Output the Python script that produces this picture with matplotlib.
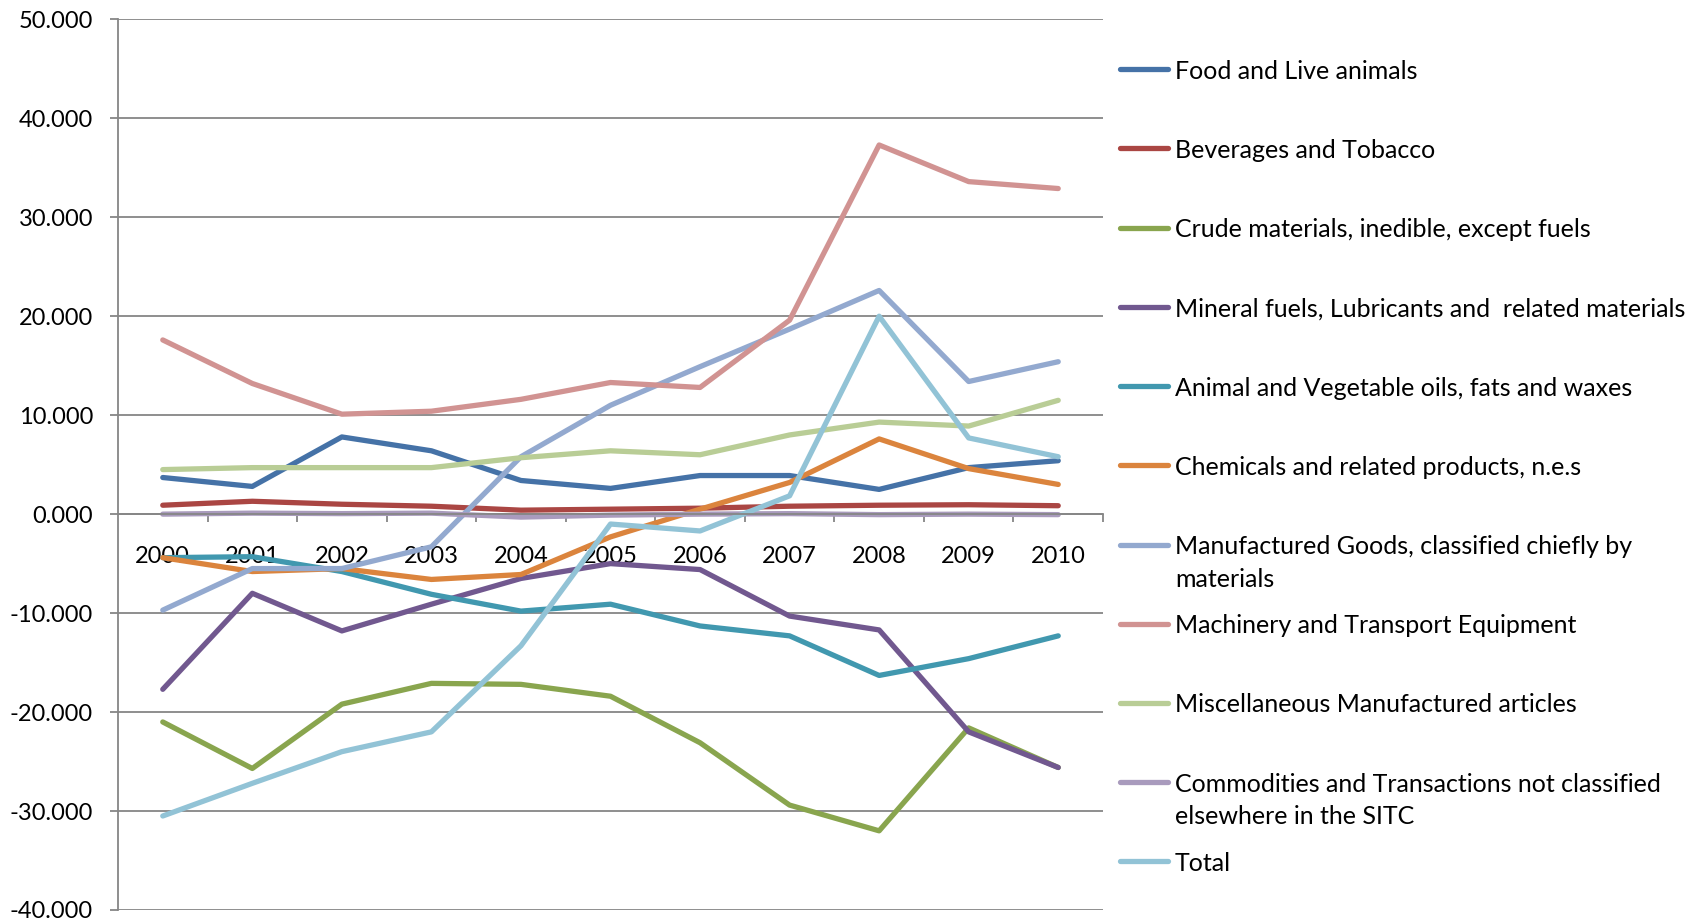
import matplotlib
matplotlib.use('Agg')
from matplotlib import pyplot as plt
from matplotlib.lines import Line2D
from matplotlib.ticker import FormatStrFormatter
import numpy as np

plt.rcParams['font.family'] = ['Lato', 'DejaVu Sans']
plt.rcParams['axes.unicode_minus'] = False

years = ['2000', '2001', '2002', '2003', '2004', '2005', '2006', '2007', '2008', '2009', '2010']

food = [3.7, 2.8, 7.8, 6.4, 3.4, 2.6, 3.9, 3.9, 2.5, 4.7, 5.4]
beverages = [0.9, 1.3, 1.0, 0.8, 0.4, 0.5, 0.6, 0.8, 0.9, 0.95, 0.85]
crude = [-21.0, -25.7, -19.2, -17.1, -17.2, -18.4, -23.1, -29.4, -32.0, -21.6, -25.6]
mineral = [-17.7, -8.0, -11.8, -9.1, -6.5, -5.0, -5.6, -10.3, -11.7, -22.0, -25.6]
oils = [-4.4, -4.3, -5.8, -8.1, -9.8, -9.1, -11.3, -12.3, -16.3, -14.6, -12.3]
chemicals = [-4.4, -5.8, -5.5, -6.6, -6.1, -2.3, 0.5, 3.2, 7.6, 4.6, 3.0]
manufactured = [-9.7, -5.5, -5.5, -3.3, 5.8, 11.0, 14.9, 18.7, 22.6, 13.4, 15.4]
machinery = [17.6, 13.2, 10.1, 10.4, 11.6, 13.3, 12.8, 19.6, 37.3, 33.6, 32.9]
misc = [4.5, 4.7, 4.7, 4.7, 5.7, 6.4, 6.0, 8.0, 9.3, 8.9, 11.5]
commodities = [0.0, 0.1, 0.05, 0.1, -0.3, -0.1, 0.0, 0.05, -0.05, 0.0, -0.05]
total = [-30.5, -27.2, -24.0, -22.0, -13.3, -1.0, -1.7, 1.85, 20.0, 7.7, 5.8]

series = [food, beverages, crude, mineral, oils, chemicals,
          manufactured, machinery, misc, commodities, total]
labels = ['Food and Live animals',
          'Beverages and Tobacco',
          'Crude materials, inedible, except fuels',
          'Mineral fuels, Lubricants and  related materials',
          'Animal and Vegetable oils, fats and waxes',
          'Chemicals and related products, n.e.s',
          'Manufactured Goods, classified chiefly by\nmaterials',
          'Machinery and Transport Equipment',
          'Miscellaneous Manufactured articles',
          'Commodities and Transactions not classified\nelsewhere in the SITC',
          'Total']
colours = ['#4572A7', '#AA4643', '#89A54E', '#71588F', '#4198AF', '#DB843D',
           '#93A9CF', '#D19392', '#B9CD96', '#A99BBD', '#92C3D6']

W, H = 1702, 921
grey = '#868686'

fig = plt.figure(figsize=(W / 100, H / 100), dpi=100)
ax = fig.add_axes([118 / W, 1 - 910 / H, (1103 - 118) / W, (910 - 19.3) / H])

x = np.arange(len(years))
for vals, col in zip(series, colours):
    ax.plot(x, vals, color=col, lw=3.8, solid_capstyle='round',
            solid_joinstyle='round', clip_on=False)

ax.set_xlim(-0.5, len(years) - 0.5)
ax.set_ylim(-40, 50)
ax.set_yticks(np.arange(-40, 51, 10))
ax.yaxis.set_major_formatter(FormatStrFormatter('%.3f'))
ax.grid(axis='y', color=grey, lw=1.3)
ax.set_axisbelow(True)

ax.spines['top'].set_visible(False)
ax.spines['right'].set_visible(False)
ax.spines['left'].set_color(grey)
ax.spines['left'].set_linewidth(1.3)
ax.spines['bottom'].set_position(('data', 0))
ax.spines['bottom'].set_color(grey)
ax.spines['bottom'].set_linewidth(1.3)

ax.set_xticks(np.arange(0.5, len(years), 1))
ax.set_xticks(x, minor=True)
ax.set_xticklabels(years, minor=True)
ax.tick_params(axis='x', which='major', length=5.5, width=1.3, color=grey,
               labelbottom=False)
ax.tick_params(axis='x', which='minor', length=0, pad=23, labelsize=17)
ax.tick_params(axis='y', length=6, width=1.3, color=grey, pad=12, labelsize=17)

# legend drawn by hand so wrapped entries keep Excel's even spacing
for i, (lab, col) in enumerate(zip(labels, colours)):
    y = 1 - (69.3 + 79.2 * i) / H
    fig.add_artist(Line2D([1120 / W, 1168 / W], [y, y], color=col, lw=3.8,
                          solid_capstyle='round'))
    for j, line in enumerate(lab.split('\n')):
        fig.text(1175 / W, y - j * 32.7 / H, line, va='center_baseline',
                 fontsize=18)

fig.savefig('out.png', dpi=100)
